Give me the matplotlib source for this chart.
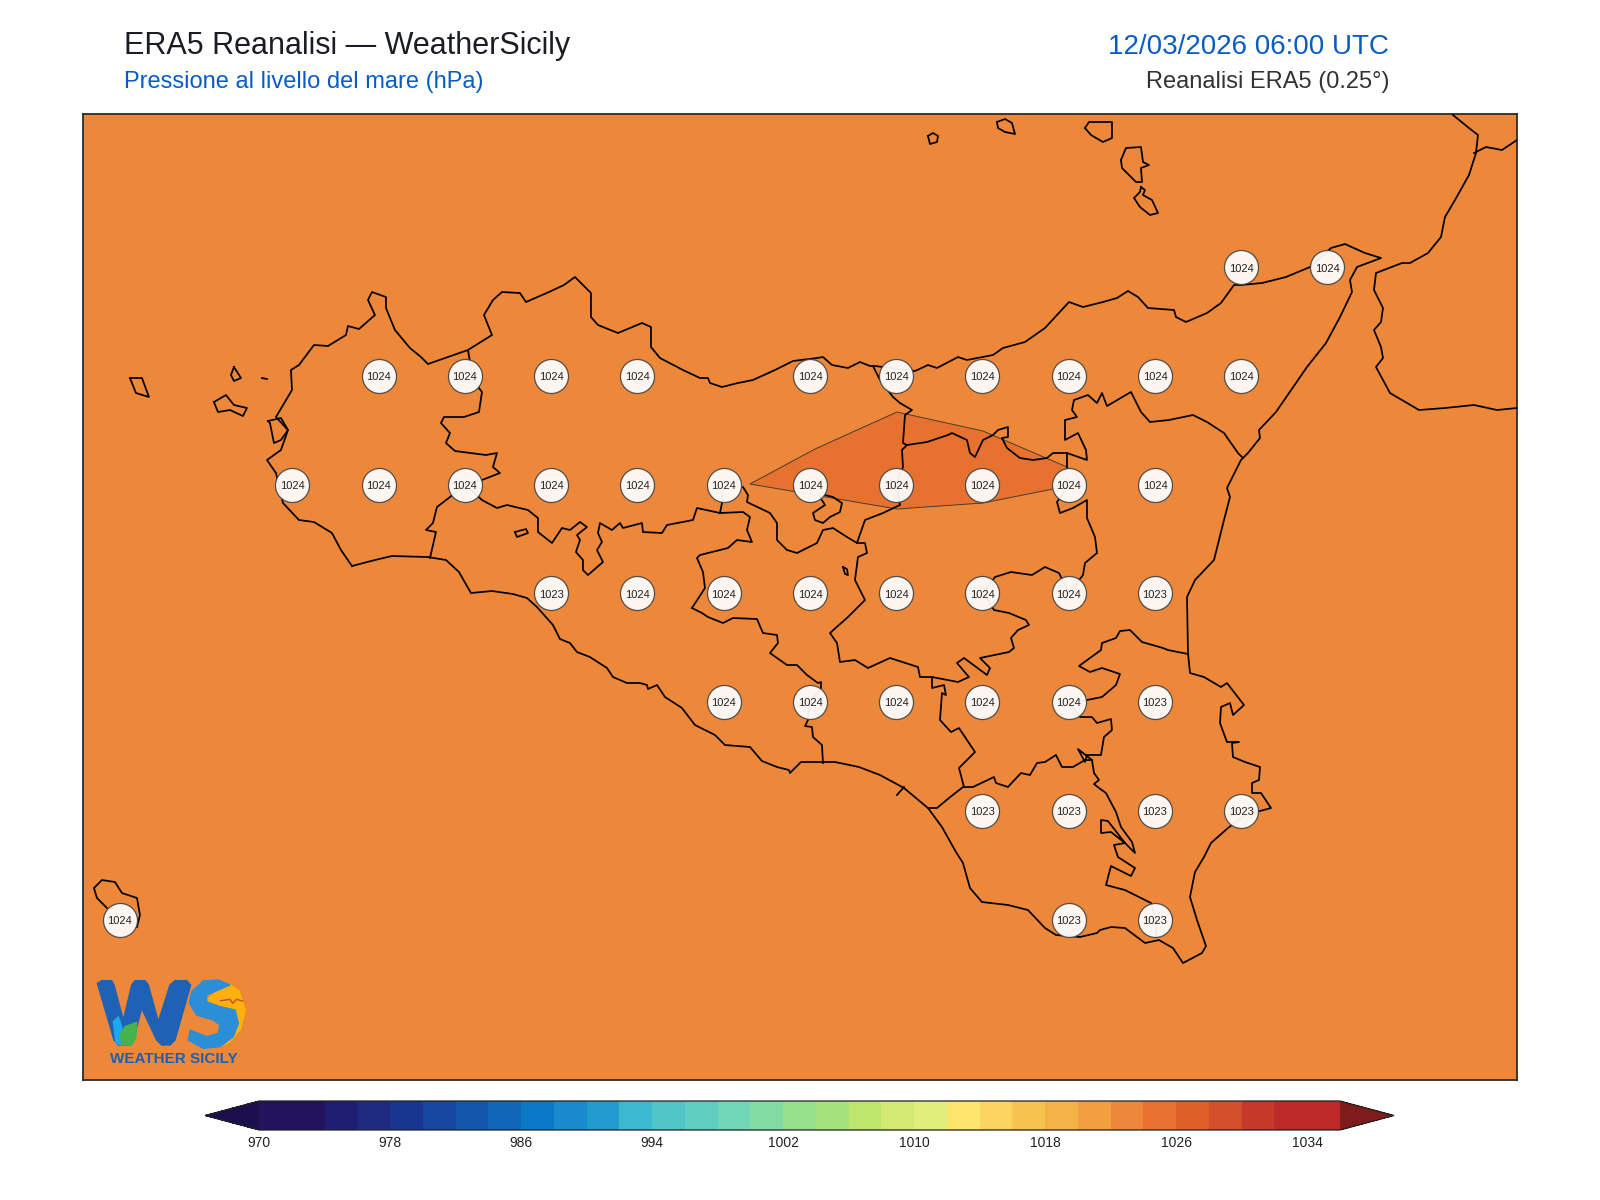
import numpy as np
import matplotlib
matplotlib.use("Agg")
import matplotlib.pyplot as plt
from matplotlib.colors import ListedColormap, BoundaryNorm
from matplotlib.cm import ScalarMappable

plt.rcParams['font.family'] = ['Liberation Sans', 'DejaVu Sans']

# colour scale, one colour per 2 hPa band
levels = np.arange(970, 1038, 2)
band_colors = ['#23125c', '#23125c', '#201e72', '#1e2a80', '#18358f', '#1746a0', '#1355ab',
               '#1266b9', '#0c78c8', '#1a8acf', '#229ccf', '#3cb9d1', '#51c4c8', '#5fcdbf',
               '#70d6b6', '#82dba2', '#96df8b', '#a6e27b', '#bde66d', '#d3ea72', '#e2ee7b',
               '#fde46a', '#fcd45f', '#f8c251', '#f5b247', '#f2a03f', '#ed883a', '#e7722f',
               '#de5f28', '#d34f2a', '#c6392a', '#bc2b2a', '#bc2b2a']
under_color = '#1c0f4d'
over_color = '#7e1c1c'
cbar_ticks = [970, 978, 986, 994, 1002, 1010, 1018, 1026, 1034]

# pressure labels on the ERA5 grid
point_lat = [38.25, 38.25,
             38.0, 38.0, 38.0, 38.0, 38.0, 38.0, 38.0, 38.0, 38.0, 38.0,
             37.75, 37.75, 37.75, 37.75, 37.75, 37.75, 37.75, 37.75, 37.75, 37.75, 37.75,
             37.5, 37.5, 37.5, 37.5, 37.5, 37.5, 37.5, 37.5,
             37.25, 37.25, 37.25, 37.25, 37.25, 37.25,
             37.0, 37.0, 37.0, 37.0,
             36.75, 36.75, 36.75]
point_lon = [15.25, 15.5,
             12.75, 13.0, 13.25, 13.5, 14.0, 14.25, 14.5, 14.75, 15.0, 15.25,
             12.5, 12.75, 13.0, 13.25, 13.5, 13.75, 14.0, 14.25, 14.5, 14.75, 15.0,
             13.25, 13.5, 13.75, 14.0, 14.25, 14.5, 14.75, 15.0,
             13.75, 14.0, 14.25, 14.5, 14.75, 15.0,
             14.5, 14.75, 15.0, 15.25,
             12.0, 14.75, 15.0]
point_hpa = [1024, 1024,
             1024, 1024, 1024, 1024, 1024, 1024, 1024, 1024, 1024, 1024,
             1024, 1024, 1024, 1024, 1024, 1024, 1024, 1024, 1024, 1024, 1024,
             1023, 1024, 1024, 1024, 1024, 1024, 1024, 1023,
             1024, 1024, 1024, 1024, 1024, 1023,
             1023, 1023, 1023, 1023,
             1024, 1023, 1023]

# outlines, as (column, row) on the 1600x1200 sheet
band_1024 = [(750, 484), (815, 449), (897, 412), (983, 431), (1067, 467), (1085, 485),
             (1053, 489), (983, 503), (897, 509)]

sicily_coast = [(352, 566), (375, 560), (392, 556), (428, 557), (446, 560), (459, 572), (471, 593),
                (492, 591), (513, 594), (527, 598), (537, 607), (553, 625), (560, 639), (570, 643),
                (577, 652), (590, 657), (607, 668), (613, 677), (627, 683), (640, 683), (647, 685),
                (648, 689), (657, 685), (665, 697), (682, 708), (695, 725), (715, 735), (725, 745),
                (750, 747), (762, 761), (777, 767), (789, 770), (790, 773), (801, 762), (823, 762),
                (835, 762), (859, 767), (880, 775), (904, 788), (928, 808), (942, 827), (956, 852),
                (963, 863), (970, 888), (982, 902), (1008, 905), (1028, 910), (1045, 928), (1056, 935),
                (1080, 937), (1097, 933), (1100, 930), (1111, 927), (1125, 928), (1145, 943), (1159, 940),
                (1173, 948), (1183, 963), (1202, 953), (1206, 946), (1197, 920), (1190, 897), (1195, 872),
                (1204, 857), (1211, 843), (1228, 828), (1245, 815), (1271, 808), (1261, 793), (1252, 793),
                (1252, 783), (1259, 780), (1260, 767), (1245, 762), (1233, 757), (1232, 743), (1239, 742),
                (1227, 742), (1220, 723), (1221, 707), (1230, 703), (1233, 715), (1244, 705), (1227, 683),
                (1221, 687), (1204, 677), (1190, 673), (1188, 653), (1187, 597), (1195, 580), (1214, 560),
                (1224, 520), (1230, 497), (1227, 488), (1241, 460), (1248, 453), (1260, 438), (1259, 430),
                (1276, 412), (1307, 367), (1326, 343), (1340, 317), (1352, 292), (1350, 280), (1357, 267),
                (1381, 258), (1365, 253), (1345, 244), (1331, 248), (1310, 267), (1286, 277), (1262, 283),
                (1241, 285), (1234, 285), (1221, 303), (1207, 313), (1186, 322), (1176, 317), (1174, 310),
                (1148, 308), (1138, 297), (1128, 291), (1117, 298), (1103, 302), (1083, 307), (1069, 302),
                (1045, 328), (1025, 342), (1003, 348), (993, 355), (967, 360), (958, 357), (937, 368),
                (928, 365), (915, 371), (875, 366), (870, 366), (860, 362), (848, 368), (832, 365),
                (823, 357), (817, 358), (793, 361), (775, 370), (753, 380), (738, 383), (722, 387),
                (710, 383), (708, 378), (700, 378), (683, 370), (660, 358), (651, 347), (651, 327),
                (642, 323), (618, 333), (598, 325), (591, 317), (591, 293), (575, 277), (564, 285),
                (549, 292), (526, 302), (520, 293), (502, 292), (493, 300), (484, 315), (492, 335),
                (468, 350), (428, 364), (421, 357), (410, 348), (395, 330), (386, 308), (386, 297),
                (372, 292), (368, 300), (375, 315), (359, 329), (348, 326), (346, 335), (328, 346),
                (314, 345), (299, 365), (291, 370), (292, 390), (276, 417), (288, 430), (281, 450),
                (267, 460), (276, 473), (283, 503), (299, 520), (314, 522), (332, 533), (341, 550),
                (352, 566)]

border_west = [(468, 350), (473, 380), (482, 392), (479, 412), (464, 417), (444, 417), (441, 423),
               (450, 433), (446, 443), (455, 451), (486, 455), (497, 453), (493, 467), (500, 473),
               (482, 480), (465, 484), (450, 497), (437, 507), (433, 523), (426, 530), (436, 532),
               (430, 558)]
border_palermo_south = [(465, 484), (482, 500), (497, 508), (507, 505), (528, 510), (538, 518), (538, 532),
                        (552, 543), (562, 528), (570, 530), (580, 522), (587, 527), (577, 535), (580, 540),
                        (576, 552), (583, 560), (583, 570), (588, 575), (603, 562), (597, 550), (602, 542),
                        (598, 533), (600, 523), (612, 530), (620, 523), (623, 528), (642, 523), (643, 532),
                        (662, 533), (667, 525), (693, 520), (697, 508), (720, 513), (743, 512), (750, 517),
                        (747, 530), (752, 542), (737, 540), (728, 548), (700, 555), (697, 558), (703, 572),
                        (705, 588), (692, 608)]
border_agrigento = [(692, 608), (702, 613), (708, 617), (723, 623), (733, 618), (757, 619), (763, 633),
                    (777, 635), (778, 643), (770, 653), (787, 665), (797, 665), (807, 675), (818, 683),
                    (821, 682), (821, 688), (810, 702), (808, 720), (805, 726), (812, 727), (813, 737),
                    (822, 745), (823, 763)]
border_stub_madonie = [(722, 492), (722, 503), (720, 513)]
border_enna_west = [(743, 487), (748, 495), (747, 502), (770, 513), (777, 523), (777, 540), (787, 550),
                    (797, 553), (817, 543), (823, 530), (833, 528), (847, 537), (857, 543), (865, 520),
                    (883, 513), (900, 505), (896, 484)]
border_enna_south = [(857, 543), (865, 543), (867, 553), (858, 557), (855, 580), (865, 600), (848, 617),
                     (830, 633), (837, 643), (840, 662), (855, 660), (868, 668), (890, 658), (918, 667),
                     (920, 677), (932, 677), (958, 682), (969, 677), (957, 663), (964, 658), (987, 675),
                     (990, 668), (980, 658), (1009, 652), (1014, 648), (1011, 638), (1018, 630), (1029, 625),
                     (1026, 620), (1009, 613), (994, 610), (983, 593), (995, 577), (1011, 572), (1032, 575),
                     (1045, 567), (1059, 573), (1069, 593), (1083, 575), (1085, 563), (1097, 553), (1095, 537),
                     (1087, 518), (1087, 500), (1073, 508), (1060, 513), (1057, 502), (1069, 485)]
border_nisseno = [(964, 787), (959, 768), (975, 752), (959, 728), (951, 732), (940, 720), (942, 693),
                  (946, 695), (944, 685), (932, 688), (932, 677)]
border_messina = [(873, 366), (880, 380), (893, 397), (900, 403), (912, 410), (905, 415), (903, 443),
                  (907, 445), (902, 450), (903, 467), (896, 484)]
border_nebrodi = [(907, 445), (927, 442), (948, 435), (952, 433), (967, 440), (970, 453), (975, 457),
                  (983, 440), (993, 435), (998, 430), (1008, 427), (1008, 437), (1002, 438), (1007, 448),
                  (1020, 458), (1033, 460), (1047, 458), (1053, 453), (1067, 453), (1067, 470)]
border_etna = [(1067, 453), (1087, 460), (1086, 450), (1078, 433), (1065, 440), (1065, 420), (1077, 417),
               (1072, 410), (1074, 400), (1088, 395), (1097, 403), (1102, 393), (1107, 406), (1131, 392),
               (1141, 412), (1150, 422), (1169, 420), (1193, 415), (1207, 422), (1224, 433), (1238, 453),
               (1243, 458)]
border_enclave = [(825, 495), (833, 497), (842, 503), (840, 512), (830, 517), (823, 523), (815, 520),
                  (813, 513), (825, 505), (820, 497)]
border_ragusa = [(928, 808), (937, 808), (949, 798), (963, 787), (973, 787), (994, 777), (996, 783),
                 (1008, 787), (1021, 773), (1030, 775), (1037, 763), (1045, 762), (1056, 755), (1062, 767),
                 (1073, 767), (1085, 760), (1092, 760)]
border_catania = [(1092, 760), (1078, 749), (1085, 762), (1087, 755), (1101, 755), (1104, 737), (1112, 730),
                  (1111, 719), (1097, 723), (1092, 717), (1080, 717), (1069, 702), (1087, 700), (1102, 697),
                  (1116, 685), (1120, 674), (1102, 668), (1090, 672), (1079, 666), (1101, 650), (1102, 643),
                  (1116, 638), (1120, 631), (1130, 630), (1142, 642), (1163, 648), (1168, 650), (1188, 654)]
border_siracusa = [(1092, 760), (1094, 773), (1099, 780), (1094, 784), (1099, 788), (1106, 793), (1116, 812),
                   (1121, 827), (1132, 842), (1135, 853), (1125, 843), (1111, 832), (1101, 833), (1101, 820),
                   (1108, 821), (1125, 843), (1114, 845), (1118, 857), (1135, 868), (1131, 876), (1111, 866),
                   (1106, 885), (1125, 890), (1151, 903), (1156, 920), (1156, 937)]
pozzallo_stub = [(897, 795), (904, 787)]
lake_pozzillo = [(843, 567), (847, 569), (848, 575), (845, 574), (843, 567)]
lake_west = [(515, 532), (526, 529), (528, 533), (517, 537), (515, 532)]

marettimo = [(130, 378), (142, 378), (149, 397), (136, 393), (130, 378)]
favignana = [(214, 402), (226, 395), (234, 405), (247, 408), (243, 416), (230, 410), (218, 412), (214, 402)]
levanzo = [(234, 367), (241, 378), (234, 381), (231, 375), (234, 367)]
formica = [(262, 378), (267, 379)]
stagnone = [(268, 421), (281, 418), (288, 430), (281, 440), (274, 443), (270, 423), (268, 421)]
alicudi = [(928, 136), (933, 133), (938, 136), (937, 142), (930, 144), (928, 136)]
filicudi = [(997, 122), (1005, 119), (1012, 123), (1015, 134), (1005, 132), (998, 128), (997, 122)]
salina = [(1085, 128), (1089, 122), (1112, 122), (1112, 138), (1103, 142), (1091, 135), (1085, 128)]
lipari = [(1121, 160), (1126, 148), (1141, 147), (1143, 162), (1149, 165), (1141, 168), (1142, 182),
          (1136, 182), (1122, 168), (1121, 160)]
vulcano = [(1141, 187), (1145, 190), (1143, 195), (1152, 200), (1158, 213), (1150, 215), (1140, 207),
           (1134, 198), (1140, 192), (1141, 187)]
pantelleria = [(107, 908), (97, 898), (94, 888), (102, 880), (115, 882), (122, 893), (137, 898), (140, 915),
               (137, 927)]

calabria_coast = [(1453, 115), (1469, 128), (1478, 135), (1476, 153), (1469, 175), (1455, 200), (1445, 217),
                  (1441, 237), (1428, 253), (1410, 263), (1402, 263), (1376, 273), (1374, 290), (1383, 308),
                  (1381, 322), (1374, 330), (1381, 347), (1383, 358), (1376, 367), (1390, 393), (1419, 410),
                  (1445, 408), (1474, 405), (1497, 410), (1517, 408)]
calabria_border = [(1474, 153), (1486, 147), (1502, 150), (1517, 140)]

map_outlines = [sicily_coast, border_west, border_palermo_south, border_agrigento, border_stub_madonie,
                border_enna_west, border_enna_south, border_nisseno, border_messina, border_nebrodi,
                border_etna, border_enclave, border_ragusa, border_catania, border_siracusa, pozzallo_stub,
                lake_pozzillo, lake_west, marettimo, favignana, levanzo, formica, stagnone, alicudi,
                filicudi, salina, lipari, vulcano, pantelleria, calabria_coast, calabria_border]

# logo shapes, traced at three times the sheet size
logo_w = [(22, 340), (35, 332), (65, 332), (72, 345), (100, 450), (125, 345), (135, 332), (165, 332), (175, 345),
          (205, 455), (240, 345), (255, 332), (290, 332), (302, 345), (255, 510), (240, 525), (215, 525), (200, 510),
          (155, 415), (130, 510), (115, 525), (85, 525), (72, 510)]
logo_s = [(420, 345), (385, 330), (340, 333), (305, 365), (298, 400), (320, 435), (370, 450), (390, 465), (385, 490),
          (350, 500), (300, 480), (295, 510), (340, 535), (390, 530), (430, 500), (445, 460), (435, 420), (390, 410),
          (350, 395), (350, 375), (380, 362)]
logo_sun = [(350, 385), (380, 360), (420, 340), (450, 360), (470, 420), (455, 480), (420, 520), (385, 535),
            (420, 500), (445, 460), (435, 420), (390, 410), (350, 395)]
logo_drop = [(70, 455), (85, 440), (95, 470), (95, 525), (78, 520)]
logo_leaf = [(90, 495), (105, 470), (140, 457), (138, 500), (125, 525), (95, 525)]
logo_bird = [(392, 392), (420, 388), (428, 400), (440, 388), (458, 393)]


def to_lonlat(trace):
    # lon 15.5 sits on column 1327.5, lat 38.25 on row 267.3, grid step 86.25 x 108.7
    pts = np.array(trace, dtype=float)
    return 15.5 + (pts[:, 0] - 1327.5) / 345.0, 38.25 - (pts[:, 1] - 267.3) / 434.8


def fill_logo(shape, color, **kw):
    logo.fill([p[0] for p in shape], [p[1] for p in shape], color=color, **kw)


W, H = 1600, 1200
fig = plt.figure(figsize=(W / 100, H / 100), dpi=100, facecolor='white')

cmap = ListedColormap(band_colors)
cmap.set_under(under_color)
cmap.set_over(over_color)
norm = BoundaryNorm(levels, cmap.N)

# Main map
ax = fig.add_axes([82.7 / W, 1 - 1080 / H, (1517 - 82.7) / W, (1080 - 114) / H])
ax.set_xlim(11.892, 16.0493)
ax.set_ylim(36.3809, 38.6026)
ax.set_xticks([])
ax.set_yticks([])
ax.set_facecolor(cmap(norm(1023)))
for s in ax.spines.values():
    s.set_linewidth(1.3)
    s.set_color('#2b2b2b')

band_lon, band_lat = to_lonlat(band_1024)
ax.fill(band_lon, band_lat, facecolor=cmap(norm(1025)), edgecolor='#4a3a30', linewidth=0.7, zorder=2)

for outline in map_outlines:
    lon, lat = to_lonlat(outline)
    ax.plot(lon, lat, color='black', linewidth=1.25, solid_joinstyle='round', zorder=3)

ax.plot(point_lon, point_lat, linestyle='none', marker='o', markersize=24.5, markerfacecolor='white',
        markeredgecolor='#444444', markeredgewidth=0.9, alpha=0.93, zorder=5)
for lon, lat, val in zip(point_lon, point_lat, point_hpa):
    ax.text(lon, lat - 0.003, str(val), ha='center', va='center', fontsize=8, color='#222222', zorder=6)

# Header
fig.text(123.5 / W, 1 - 46 / H, 'ERA5 Reanalisi — WeatherSicily', fontsize=22, color='#1a1e24', va='center')
fig.text(123.5 / W, 1 - 82 / H, 'Pressione al livello del mare (hPa)', fontsize=17, color='#0a5cc2', va='center')
fig.text(1389 / W, 1 - 47 / H, '12/03/2026 06:00 UTC', fontsize=20, color='#0a5cc2', va='center', ha='right')
fig.text(1389 / W, 1 - 82 / H, 'Reanalisi ERA5 (0.25°)', fontsize=17, color='#333333', va='center', ha='right')

# Colour bar, the tips sit inside the axes box
cax = fig.add_axes([205 / W, 1 - 1130 / H, 1189 / W, 29 / H])
cb = fig.colorbar(ScalarMappable(norm=norm, cmap=cmap), cax=cax, orientation='horizontal', extend='both',
                  extendfrac=0.05, spacing='proportional', ticks=cbar_ticks)
cb.ax.tick_params(length=0, labelsize=10, pad=4, labelcolor='#222222')
cb.ax.minorticks_off()
cb.outline.set_linewidth(0.9)
cb.outline.set_edgecolor('#222222')

# WS logo, drawn in its own small axes
logo = fig.add_axes([95 / W, 1 - 1070 / H, 155 / W, 95 / H])
logo.set_xlim(15, 480)
logo.set_ylim(600, 315)
logo.axis('off')
fill_logo(logo_w, '#1f62b5')
fill_logo(logo_drop, '#1ca8f0')
fill_logo(logo_leaf, '#45b34d')
fill_logo(logo_sun, '#fdb00f', edgecolor='#e58a10', linewidth=0.6)
fill_logo(logo_s, '#2a8fd6')
logo.plot([p[0] for p in logo_bird], [p[1] for p in logo_bird], color='#c8501a', linewidth=1)
logo.text(250, 568, 'WEATHER SICILY', fontsize=11, fontweight='bold', color='#1d5fb0', ha='center', va='center')

fig.savefig('out.png', dpi=100)
